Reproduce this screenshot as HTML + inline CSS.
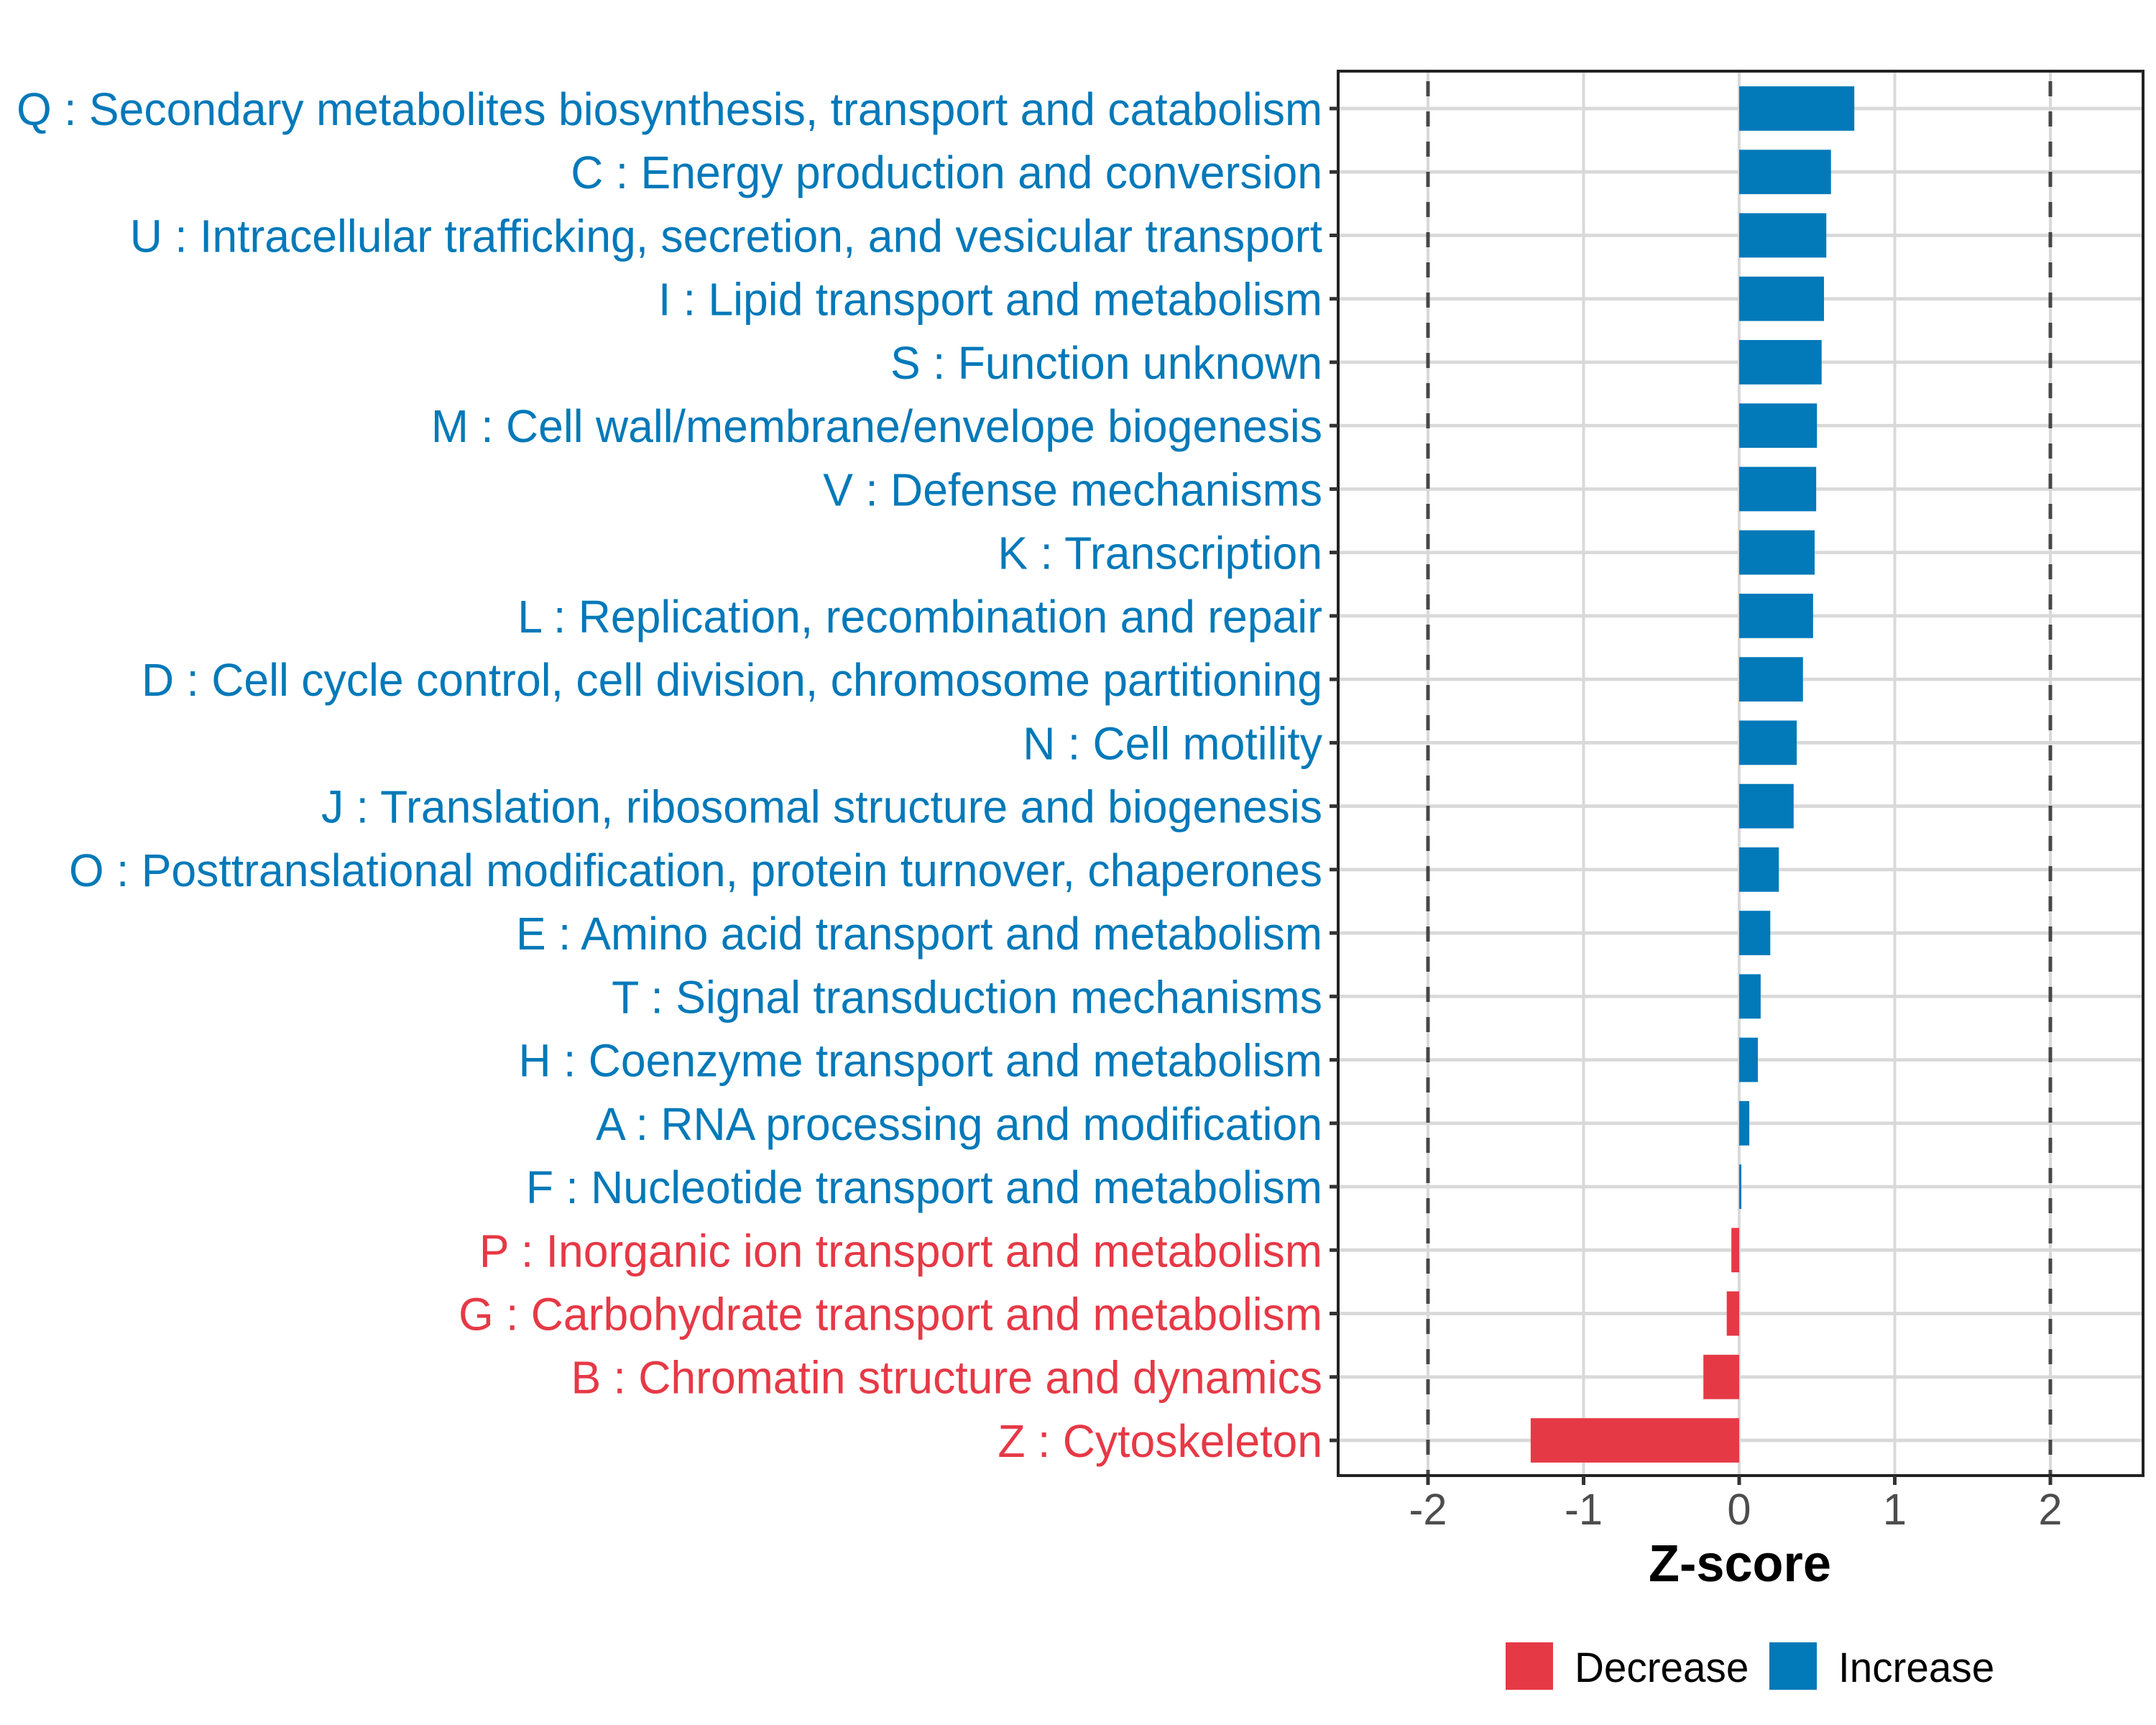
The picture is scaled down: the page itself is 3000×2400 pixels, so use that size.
<!DOCTYPE html>
<html><head><meta charset="utf-8">
<style>
html,body{margin:0;padding:0;background:#fff;}
svg{display:block;}
text{font-family:"Liberation Sans",Arial,sans-serif;}
</style></head>
<body>
<svg id="chart" xmlns="http://www.w3.org/2000/svg" width="3000" height="2400" viewBox="0 0 3000 2400">
<rect x="0" y="0" width="3000" height="2400" fill="#fff"/>
<g id="grid"></g><g id="bars"></g><g id="frame"></g><g id="ylabels"></g><g id="xaxis"></g>
<text id="xtitle" x="2421" y="2200" text-anchor="middle" font-size="72" font-weight="bold" fill="#000">Z-score</text>
<g id="legend">
  <rect x="2095" y="2285" width="66" height="66" fill="#E63946"/>
  <text x="2191" y="2340" font-size="58" fill="#000">Decrease</text>
  <rect x="2462" y="2285" width="66" height="66" fill="#0279B9"/>
  <text x="2558" y="2340" font-size="58" fill="#000">Increase</text>
</g>
</svg>
<script>
const categories = [
"Q : Secondary metabolites biosynthesis, transport and catabolism",
"C : Energy production and conversion",
"U : Intracellular trafficking, secretion, and vesicular transport",
"I : Lipid transport and metabolism",
"S : Function unknown",
"M : Cell wall/membrane/envelope biogenesis",
"V : Defense mechanisms",
"K : Transcription",
"L : Replication, recombination and repair",
"D : Cell cycle control, cell division, chromosome partitioning",
"N : Cell motility",
"J : Translation, ribosomal structure and biogenesis",
"O : Posttranslational modification, protein turnover, chaperones",
"E : Amino acid transport and metabolism",
"T : Signal transduction mechanisms",
"H : Coenzyme transport and metabolism",
"A : RNA processing and modification",
"F : Nucleotide transport and metabolism",
"P : Inorganic ion transport and metabolism",
"G : Carbohydrate transport and metabolism",
"B : Chromatin structure and dynamics",
"Z : Cytoskeleton"];
const zscores = [0.74,0.59,0.56,0.545,0.53,0.50,0.495,0.485,0.475,0.41,0.37,0.35,0.255,0.20,0.138,0.12,0.065,0.014,-0.05,-0.08,-0.23,-1.34];
const xTicks = [-2,-1,0,1,2];
const xTickLabels = ["-2","-1","0","1","2"];
const thresholds = [-2,2];

const NS="http://www.w3.org/2000/svg";
const PL=1862, PR=2982, PT=99, PB=2053;
const X0=2420, XU=216.5;
function xs(v){return X0+v*XU;}
const ROW0=151, STEP=(2004-151)/(categories.length-1);
function ys(i){return ROW0+i*STEP;}
const BLUE="#0279B9", RED="#E63946";
function mk(tag,attrs,parent){const e=document.createElementNS(NS,tag);for(const k in attrs)e.setAttribute(k,attrs[k]);parent.appendChild(e);return e;}

const grid=document.getElementById('grid');
xTicks.forEach((t,i)=>{
  const l=mk('line',{x1:xs(t),x2:xs(t),y1:PT,y2:PB,stroke:'#d9d9d9','stroke-width':4},grid);
  
  
});
categories.forEach((c,i)=>{
  const l=mk('line',{x1:PL,x2:PR,y1:ys(i),y2:ys(i),stroke:'#d9d9d9','stroke-width':4.7},grid);
  
  
});
thresholds.forEach(t=>{
  const l=mk('line',{x1:xs(t),x2:xs(t),y1:PT,y2:PB,stroke:'#474747','stroke-width':5,'stroke-dasharray':'21,21','stroke-dashoffset':'-14'},grid);
  
  
});

const bars=document.getElementById('bars');
const BH=STEP*0.7;
zscores.forEach((v,i)=>{
  const x=Math.min(xs(0),xs(v)), w=Math.abs(xs(v)-xs(0));
  const r=mk('rect',{x:x,y:ys(i)-BH/2,width:Math.max(w,1),height:BH,fill:v<0?RED:BLUE},bars);
  
  
});

const frame=document.getElementById('frame');
const fr=mk('rect',{x:PL,y:PT,width:PR-PL,height:PB-PT,fill:'none',stroke:'#222','stroke-width':4},frame);



const yl=document.getElementById('ylabels');
const labels=[];
categories.forEach((c,i)=>{
  const tk=mk('line',{x1:PL-12,x2:PL,y1:ys(i),y2:ys(i),stroke:'#333','stroke-width':5},yl);
  
  
  const t=mk('text',{x:1840,y:ys(i)+23,'text-anchor':'end','font-size':64,fill:zscores[i]<0?RED:BLUE},yl);
  t.textContent=c;
  
  
  labels.push(t);
});

const xa=document.getElementById('xaxis');
const xtexts=[];
xTicks.forEach((t,i)=>{
  const tk=mk('line',{x1:xs(t),x2:xs(t),y1:PB,y2:PB+13,stroke:'#333','stroke-width':5},xa);
  
  
  const tx=mk('text',{x:xs(t),y:2121,'text-anchor':'middle','font-size':61,fill:'#4d4d4d'},xa);
  tx.textContent=xTickLabels[i];
  
  
  xtexts.push(tx);
});

let sx=1;
try{const w=labels[0].getComputedTextLength(); if(w>0) sx=(1840-23)/w;}catch(e){}
if(sx>1.1||sx<0.6) sx=1;
function squeeze(el,ax){el.setAttribute('transform','translate('+ax+',0) scale('+sx+',1) translate('+(-ax)+',0)');}
labels.forEach(t=>squeeze(t,1840));
xtexts.forEach((t,i)=>squeeze(t,xs(xTicks[i])));
squeeze(document.getElementById('xtitle'),2421);
document.querySelectorAll('#legend text').forEach(t=>squeeze(t,+t.getAttribute('x')));
</script>
</body></html>
